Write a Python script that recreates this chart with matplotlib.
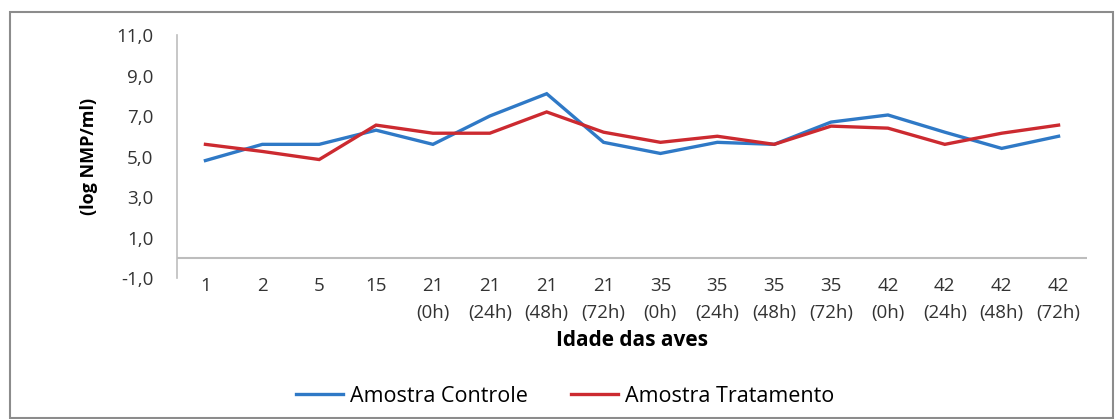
import matplotlib
matplotlib.use("Agg")
import matplotlib.pyplot as plt
from matplotlib.patches import Rectangle
from matplotlib.lines import Line2D

plt.rcParams['font.family'] = ['Open Sans', 'DejaVu Sans']

categorias = ["1", "2", "5", "15",
              "21\n(0h)", "21\n(24h)", "21\n(48h)", "21\n(72h)",
              "35\n(0h)", "35\n(24h)", "35\n(48h)", "35\n(72h)",
              "42\n(0h)", "42\n(24h)", "42\n(48h)", "42\n(72h)"]
controle = [4.8, 5.6, 5.6, 6.3, 5.6, 7.0, 8.1, 5.7,
            5.15, 5.7, 5.6, 6.7, 7.05, 6.2, 5.4, 6.0]
tratamento = [5.6, 5.25, 4.85, 6.55, 6.15, 6.15, 7.2, 6.2,
              5.7, 6.0, 5.6, 6.5, 6.4, 5.6, 6.15, 6.55]
yticks = [-1, 1, 3, 5, 7, 9, 11]

cor_controle = "#2f79c6"
cor_tratamento = "#cc2a30"

fig = plt.figure(figsize=(11.15, 4.19), dpi=100)
W, H = 1115, 419
ax = fig.add_axes([177 / W, 1 - 278 / H, (1087 - 177) / W, (278 - 35) / H])

x = list(range(len(categorias)))
ax.plot(x, controle, color=cor_controle, lw=2.4, solid_joinstyle="miter")
ax.plot(x, tratamento, color=cor_tratamento, lw=2.4, solid_joinstyle="miter")

ax.set_xlim(-0.5, len(categorias) - 0.5)
ax.set_ylim(-1, 11)
ax.set_yticks(yticks)
ax.set_yticklabels([f"{v:.1f}".replace(".", ",") for v in yticks],
                   fontsize=13.5, color="#333333")
ax.set_xticks(x)
ax.set_xticklabels(categorias, fontsize=13.5, color="#333333", linespacing=1.65)
ax.tick_params(axis="both", length=0)
ax.tick_params(axis="y", pad=17)
ax.tick_params(axis="x", pad=-1)

for s in ["top", "right", "bottom"]:
    ax.spines[s].set_visible(False)
ax.spines["left"].set_color("#bdbdbd")
ax.spines["left"].set_linewidth(1.2)
ax.axhline(0, color="#bdbdbd", lw=1.5, zorder=1)

ax.set_ylabel("(log NMP/ml)", fontsize=13, fontweight="bold")
ax.yaxis.set_label_coords(-0.087, 0.5)
fig.text(632 / W, 1 - 340 / H, "Idade das aves", fontsize=15,
         fontweight="bold", ha="center", va="center")

handles = [Line2D([], [], color=cor_controle, lw=2.4),
           Line2D([], [], color=cor_tratamento, lw=2.4)]
fig.legend(handles, ["Amostra Controle", "Amostra Tratamento"],
           loc="center", bbox_to_anchor=(565 / W, 1 - 396 / H), ncol=2,
           frameon=False, fontsize=15.5, handlelength=2.2, handletextpad=0.3,
           columnspacing=2.0)

fig.patches.append(Rectangle((10 / W, 1 / H), (1113 - 10) / W, (407 - 1) / H,
                             transform=fig.transFigure, fill=False,
                             edgecolor="#8c8c8c", lw=1.5))

fig.savefig("out.png", dpi=100)
